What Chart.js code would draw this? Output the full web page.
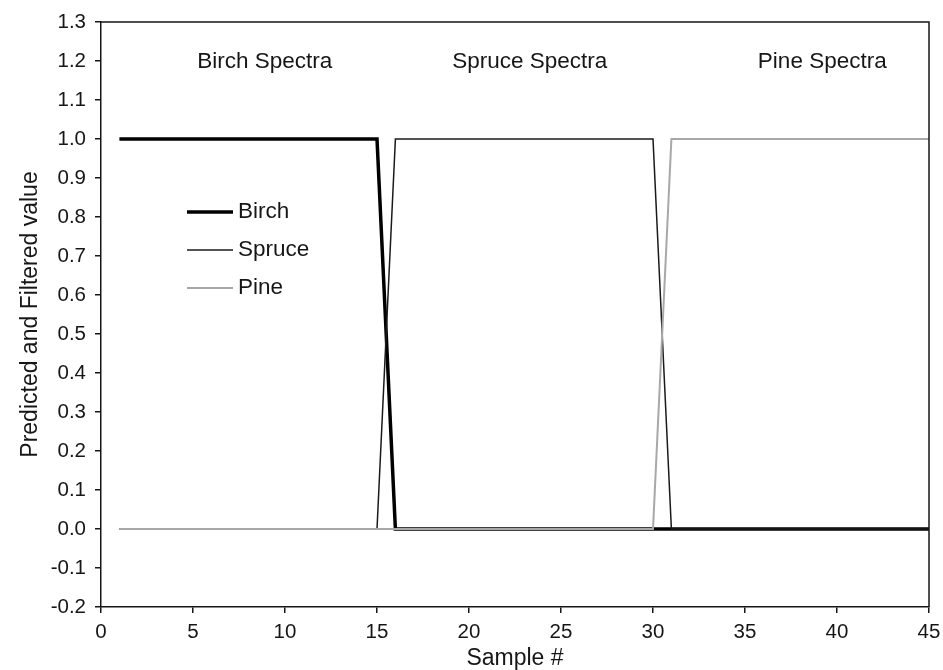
<!DOCTYPE html>
<html>
<head>
<meta charset="utf-8">
<script src="https://cdn.jsdelivr.net/npm/chart.js@4/dist/chart.umd.min.js"></script>
<style>
  html, body { margin: 0; padding: 0; background: #fff; }
  #wrap { width: 943px; height: 670px; }
</style>
</head>
<body>
<div id="wrap"><canvas id="c" width="943" height="670"></canvas></div>
<script>
/* predicted + filtered class value per sample */
const samples = [1, 2, 3, 4, 5, 6, 7, 8, 9, 10, 11, 12, 13, 14, 15, 16, 17, 18, 19, 20, 21, 22, 23,
  24, 25, 26, 27, 28, 29, 30, 31, 32, 33, 34, 35, 36, 37, 38, 39, 40, 41, 42, 43, 44, 45];
const birch = [1, 1, 1, 1, 1, 1, 1, 1, 1, 1, 1, 1, 1, 1, 1, 0, 0, 0, 0, 0, 0, 0, 0,
  0, 0, 0, 0, 0, 0, 0, 0, 0, 0, 0, 0, 0, 0, 0, 0, 0, 0, 0, 0, 0, 0];
const spruce = [0, 0, 0, 0, 0, 0, 0, 0, 0, 0, 0, 0, 0, 0, 0, 1, 1, 1, 1, 1, 1, 1, 1,
  1, 1, 1, 1, 1, 1, 1, 0, 0, 0, 0, 0, 0, 0, 0, 0, 0, 0, 0, 0, 0, 0];
const pine = [0, 0, 0, 0, 0, 0, 0, 0, 0, 0, 0, 0, 0, 0, 0, 0, 0, 0, 0, 0, 0, 0, 0,
  0, 0, 0, 0, 0, 0, 0, 1, 1, 1, 1, 1, 1, 1, 1, 1, 1, 1, 1, 1, 1, 1];

const seriesNames = ['Birch', 'Spruce', 'Pine'];
const regionLabels = ['Birch Spectra', 'Spruce Spectra', 'Pine Spectra'];
const regionX = [8.9, 23.3, 39.2];
const regionY = 1.2;

const FONT = '"Liberation Sans", Arial, sans-serif';
const INK = '#161616';

const punten = arr => arr.map((v, i) => ({ x: samples[i], y: v }));

/* frame + spectra labels + legend inside plot */
const extras = {
  id: 'extras',
  afterDraw(chart) {
    const { ctx, chartArea: a, scales: { x, y } } = chart;
    ctx.save();
    ctx.strokeStyle = INK;
    ctx.lineWidth = 1.5;
    ctx.beginPath();
    ctx.moveTo(a.left, a.top);
    ctx.lineTo(a.right, a.top);
    ctx.lineTo(a.right, a.bottom);
    ctx.stroke();

    ctx.fillStyle = INK;
    ctx.font = '22.5px ' + FONT;
    ctx.textAlign = 'center';
    ctx.textBaseline = 'middle';
    regionLabels.forEach((t, i) => ctx.fillText(t, x.getPixelForValue(regionX[i]), y.getPixelForValue(regionY) + 1));

    // legend
    const lx = 187, ly = 212, dy = 38;
    ctx.textAlign = 'left';
    chart.data.datasets.slice().sort((p, q) => seriesNames.indexOf(p.label) - seriesNames.indexOf(q.label)).forEach((ds, i) => {
      ctx.strokeStyle = ds.borderColor;
      ctx.lineWidth = ds.borderWidth;
      ctx.beginPath();
      ctx.moveTo(lx, ly + i * dy);
      ctx.lineTo(lx + 46, ly + i * dy);
      ctx.stroke();
      ctx.fillStyle = INK;
      ctx.fillText(ds.label, lx + 51, ly + i * dy);
    });
    ctx.restore();
  }
};

new Chart(document.getElementById('c'), {
  type: 'line',
  data: {
    datasets: [
      { label: seriesNames[0], data: punten(birch), borderColor: '#000', borderWidth: 3.5, order: 2 },
      { label: seriesNames[1], data: punten(spruce), borderColor: '#1a1a1a', borderWidth: 1.5, order: 1 },
      { label: seriesNames[2], data: punten(pine), borderColor: '#a8a8a8', borderWidth: 2, order: 0 }
    ]
  },
  options: {
    responsive: false,
    animation: false,
    layout: { padding: { top: 22, right: 14, left: 0, bottom: 0 } },
    elements: { point: { radius: 0 }, line: { tension: 0 } },
    plugins: { legend: { display: false }, tooltip: { enabled: false } },
    scales: {
      x: {
        type: 'linear', min: 0, max: 45,
        afterFit: s => { s.height = 63; s.paddingLeft = 0; s.paddingRight = 0; },
        ticks: { stepSize: 5, color: INK, font: { family: FONT, size: 20.5 }, padding: 7, maxRotation: 0 },
        grid: { drawOnChartArea: false, drawTicks: true, tickLength: 6, color: INK, lineWidth: 1.5 },
        border: { display: true, color: INK, width: 1.5 },
        title: { display: true, text: 'Sample #', color: INK, font: { family: FONT, size: 23, lineHeight: 1 }, padding: { top: 0, bottom: 0 } }
      },
      y: {
        type: 'linear', min: -0.2, max: 1.3,
        afterFit: s => { s.width = 101; s.paddingTop = 0; s.paddingBottom = 0; },
        ticks: { stepSize: 0.1, color: INK, font: { family: FONT, size: 20.5 }, padding: 9, callback: v => v.toFixed(1) },
        grid: { drawOnChartArea: false, drawTicks: true, tickLength: 6, color: INK, lineWidth: 1.5 },
        border: { display: true, color: INK, width: 1.5 },
        title: { display: true, text: 'Predicted and Filtered value', color: INK, font: { family: FONT, size: 23, lineHeight: 1 }, padding: { top: 19, bottom: 0 } }
      }
    }
  },
  plugins: [extras]
});
</script>
</body>
</html>
